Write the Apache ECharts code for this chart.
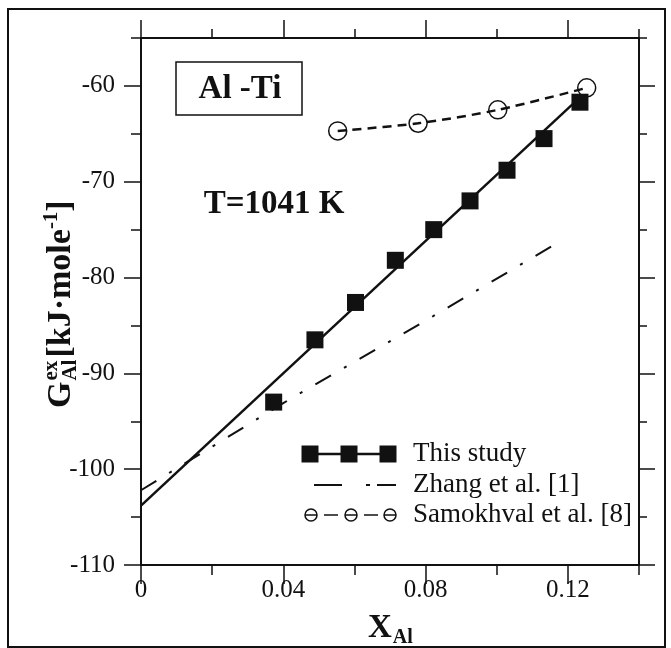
<!DOCTYPE html>
<html><head><meta charset="utf-8">
<script src="https://cdn.jsdelivr.net/npm/echarts@6/dist/echarts.min.js"></script>
<style>html,body{margin:0;padding:0;background:#fff}#c{width:671px;height:648px}</style>
</head><body><div id="c"></div>
<script>
// ---- data ----
const thisStudyX = [0.0373, 0.0489, 0.0603, 0.0715, 0.0823, 0.0925, 0.1029, 0.1133, 0.1234];
const thisStudyY = [-93.0, -86.5, -82.6, -78.2, -75.0, -72.0, -68.8, -65.5, -61.7];
const fitX = [0, 0.1234];
const fitY = [-103.8, -61.2];
const zhangX = [0, 0.04, 0.08, 0.117];
const zhangY = [-102.2, -93.1, -84.5, -76.4];
const samX = [0.0553, 0.0779, 0.1003, 0.1253];
const samY = [-64.7, -63.9, -62.5, -60.2];
const xMajorTicks = [0, 0.04, 0.08, 0.12];
const xMinorTicks = [0.02, 0.06, 0.10, 0.14];
const yMajorTicks = [-110, -100, -90, -80, -70, -60];
const yMinorTicks = [-105, -95, -85, -75, -65, -55];
const legendNames = ['This study', 'Zhang et al. [1]', 'Samokhval et al. [8]'];
const systemLabel = 'Al -Ti';
const tempLabel = 'T=1041 K';

const INK = '#111';
const SERIF = '"Liberation Serif", "DejaVu Serif", serif';
const zip = (a, b) => a.map((v, i) => [v, b[i]]);

function xAx(pos, ticks, len, labels) {
  return {
    type: 'value', position: pos, min: 0, max: 0.14,
    axisLine: { show: true, onZero: false, lineStyle: { color: INK, width: 2 } },
    axisTick: { show: true, inside: false, length: len, customValues: ticks, lineStyle: { color: INK, width: 1.5 } },
    axisLabel: labels ? { show: true, customValues: ticks, margin: 13, color: INK, fontFamily: SERIF, fontSize: 25,
      formatter: v => String(+(+v).toFixed(2)) } : { show: false },
    splitLine: { show: false }, minorTick: { show: false }
  };
}
function yAx(pos, ticks, len, labels) {
  return {
    type: 'value', position: pos, min: -110, max: -55,
    axisLine: { show: true, onZero: false, lineStyle: { color: INK, width: 2 } },
    axisTick: { show: true, inside: false, length: len, customValues: ticks, lineStyle: { color: INK, width: 1.5 } },
    axisLabel: labels ? { show: true, customValues: ticks, margin: 26, color: INK, fontFamily: SERIF, fontSize: 25 } : { show: false },
    splitLine: { show: false }, minorTick: { show: false }
  };
}

// measure helper for composed titles
const mctx = document.createElement('canvas').getContext('2d');
function tw(text, size, bold) { mctx.font = (bold ? 'bold ' : '') + size + 'px ' + SERIF; return mctx.measureText(text).width; }
function txt(text, x, y, size, bold, extra) {
  return Object.assign({ type: 'text', x: x, y: y, style: { text: text, fill: INK, font: (bold ? 'bold ' : '') + size + 'px ' + SERIF,
    textAlign: 'left', textVerticalAlign: 'middle' } }, extra || {});
}

// y-axis title pieces in local (unrotated) coordinates, baseline at y=0
const S = 34, s = 21;
const mid = f => -0.3375 * f;
const yT = [];
let lx = 0;
yT.push(txt('G', lx, mid(S), S, true));
lx += tw('G', S, true) + 1;
yT.push(txt('ex', lx, -14 + mid(s), s, true));
yT.push(txt('Al', lx, 5 + mid(s), s, true));
lx += Math.max(tw('ex', s, true), tw('Al', s, true)) + 2;
yT.push(txt('[kJ·mole', lx, mid(S), S, true));
lx += tw('[kJ·mole', S, true);
yT.push(txt('-1', lx, -14 + mid(s), s, true));
lx += tw('-1', s, true);
yT.push(txt(']', lx, mid(S), S, true));

// legend graphic
const lgX = 413, rows = [454, 485, 515];
const legendEls = [
  { type: 'line', shape: { x1: 310, y1: rows[0], x2: 388, y2: rows[0] }, style: { stroke: INK, lineWidth: 2.5 } },
  ...[310, 349, 388].map(cx => ({ type: 'rect', shape: { x: cx - 8.5, y: rows[0] - 8.5, width: 17, height: 17 }, style: { fill: INK } })),
  { type: 'line', shape: { x1: 314, y1: rows[1], x2: 342, y2: rows[1] }, style: { stroke: INK, lineWidth: 2 } },
  { type: 'line', shape: { x1: 366, y1: rows[1], x2: 370, y2: rows[1] }, style: { stroke: INK, lineWidth: 2 } },
  { type: 'line', shape: { x1: 377, y1: rows[1], x2: 396, y2: rows[1] }, style: { stroke: INK, lineWidth: 2 } },
  ...[[305, 317], [324, 338], [345, 357], [364, 378], [384, 396]].map(p => ({ type: 'line', shape: { x1: p[0], y1: rows[2], x2: p[1], y2: rows[2] }, style: { stroke: INK, lineWidth: 1.5 } })),
  ...[311, 351, 390].map(cx => ({ type: 'circle', shape: { cx: cx, cy: rows[2], r: 6 }, style: { fill: 'none', stroke: INK, lineWidth: 1.5 } })),
  ...legendNames.map((n, i) => txt(n, lgX, rows[i], 27, false))
];

const chart = echarts.init(document.getElementById('c'), null, { renderer: 'canvas' });
chart.setOption({
  backgroundColor: '#fff',
  animation: false,
  grid: { left: 141, right: 32, top: 38, bottom: 83, containLabel: false },
  xAxis: [xAx('bottom', xMajorTicks, 19, true), xAx('bottom', xMinorTicks, 10, false),
          xAx('top', xMajorTicks, 18, false), xAx('top', xMinorTicks, 9, false)],
  yAxis: [yAx('left', yMajorTicks, 17, true), yAx('left', yMinorTicks, 10, false),
          yAx('right', yMajorTicks, 16, false), yAx('right', yMinorTicks, 8, false)],
  series: [
    { name: 'fit', type: 'line', data: zip(fitX, fitY), showSymbol: false, symbol: 'none',
      lineStyle: { color: INK, width: 2.5 }, z: 3 },
    { name: legendNames[0], type: 'scatter', data: zip(thisStudyX, thisStudyY), symbol: 'rect', symbolSize: 17,
      itemStyle: { color: INK, opacity: 1 }, z: 4 },
    { name: legendNames[1], type: 'line', data: zip(zhangX, zhangY), symbol: 'none',
      lineStyle: { color: INK, width: 2, type: [18, 15, 3, 15] }, z: 2 },
    { name: legendNames[2], type: 'line', data: zip(samX, samY), smooth: 0.3, symbol: 'circle', symbolSize: 18,
      itemStyle: { color: 'rgba(0,0,0,0)', borderColor: INK, borderWidth: 1.5 },
      lineStyle: { color: INK, width: 2.5, type: [9, 6] }, z: 3 }
  ],
  graphic: [
    { type: 'rect', shape: { x: 8, y: 9, width: 657, height: 638 }, style: { fill: 'none', stroke: INK, lineWidth: 2 }, silent: true },
    { type: 'rect', shape: { x: 176, y: 62, width: 126, height: 53 }, style: { fill: '#fff', stroke: INK, lineWidth: 1.5 } },
    { type: 'text', x: 240, y: 89, style: { text: systemLabel, fill: INK, font: 'bold 33px ' + SERIF, textAlign: 'center', textVerticalAlign: 'middle' } },
    { type: 'text', x: 274, y: 204, style: { text: tempLabel, fill: INK, font: 'bold 33px ' + SERIF, textAlign: 'center', textVerticalAlign: 'middle' } },
    { type: 'group', x: 73, y: 408, rotation: Math.PI / 2, children: yT },
    txt('X', 368, 640 + mid(33), 33, true),
    txt('Al', 368 + tw('X', 33, true) + 1, 645 + mid(20), 20, true),
    { type: 'group', children: legendEls }
  ]
});
</script></body></html>
